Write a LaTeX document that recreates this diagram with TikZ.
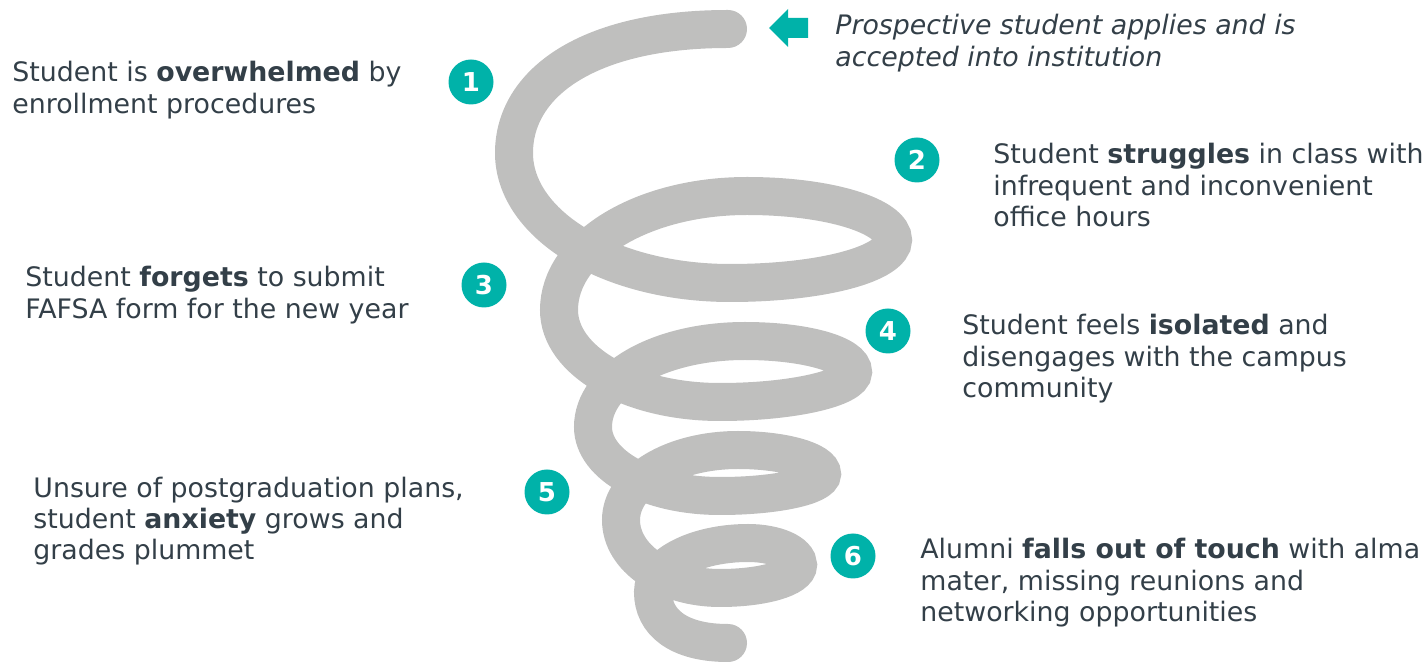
\documentclass[tikz,border=0pt]{standalone}
\usepackage{fontspec}
\setmainfont{DejaVu Sans}
\definecolor{spiralgray}{HTML}{BFBFBE}
\definecolor{numteal}{HTML}{00B2A9}
\definecolor{textdark}{HTML}{333F48}

\begin{document}
\begin{tikzpicture}[x=0.5pt,y=-0.5pt,
      every node/.style={inner sep=0pt},
      num/.style={circle,fill=numteal,text=white,minimum size=22.5pt,
        font=\fontsize{13}{13}\selectfont\bfseries},
      caption/.style={anchor=base west,align=left,text=textdark,
        font=\fontsize{13.4}{15.75}\selectfont}]
    \useasboundingbox (0,0) rectangle (1426,662);
    % the spiral
    \draw[spiralgray,line width=19pt,line cap=round]
      (728,29) .. controls +(-140,0) and +(0,-70) .. (514,153)
      .. controls +(0,72) and +(-120,0) .. (730,283)
      .. controls +(91,0) and +(0,24) .. (893,240)
      .. controls +(0,-24) and +(82,0) .. (747,196)
      .. controls +(-105,0) and +(0,-63) .. (559,310)
      .. controls +(0,51) and +(-90,0) .. (720,402)
      .. controls +(73,0) and +(0,16) .. (853,372)
      .. controls +(0,-18) and +(59,0) .. (745,341)
      .. controls +(-86,0) and +(0,-48) .. (593,427)
      .. controls +(0,38) and +(-72,0) .. (720,496)
      .. controls +(56,0) and +(0,12) .. (822,474)
      .. controls +(0,-13) and +(46,0) .. (738,450)
      .. controls +(-65,0) and +(0,-39) .. (621,520)
      .. controls +(0,38) and +(-55,0) .. (720,588)
      .. controls +(43,0) and +(0,13) .. (798,565)
      .. controls +(0,-12) and +(28,0) .. (748,543)
      .. controls +(-52,0) and +(0,-27) .. (653,592)
      .. controls +(0,30) and +(-50,0) .. (728,643);
    % entry arrow
    \fill[numteal] (769,28) -- (788,9) -- (788,18) -- (808,18)
      -- (808,38) -- (788,38) -- (788,47) -- cycle;
    % captions sit on the baseline of their last line
    \node[caption,font=\fontsize{13.4}{15.75}\selectfont\itshape] (apply) at (835,66.5)
      {Prospective student applies and is\\accepted into institution};
    % steps
    \node[num] (n1) at (471,82) {1};
    \node[num] (n2) at (917,160) {2};
    \node[num] (n3) at (484,285) {3};
    \node[num] (n4) at (888,331) {4};
    \node[num] (n5) at (547,492) {5};
    \node[num] (n6) at (853,556) {6};
    \node[caption] (t1) at (12,113.5)
      {Student is \textbf{overwhelmed} by\\enrollment procedures};
    \node[caption] (t2) at (993,227)
      {Student \textbf{struggles} in class with\\infrequent and inconvenient\\office hours};
    \node[caption] (t3) at (25,318.5)
      {Student \textbf{forgets} to submit\\FAFSA form for the new year};
    \node[caption] (t4) at (962,398)
      {Student feels \textbf{isolated} and\\disengages with the campus\\community};
    \node[caption] (t5) at (33,560)
      {Unsure of postgraduation plans,\\student \textbf{anxiety} grows and\\grades plummet};
    \node[caption] (t6) at (920,622)
      {Alumni \textbf{falls out of touch} with alma\\mater, missing reunions and\\networking opportunities};
\end{tikzpicture}
\end{document}
